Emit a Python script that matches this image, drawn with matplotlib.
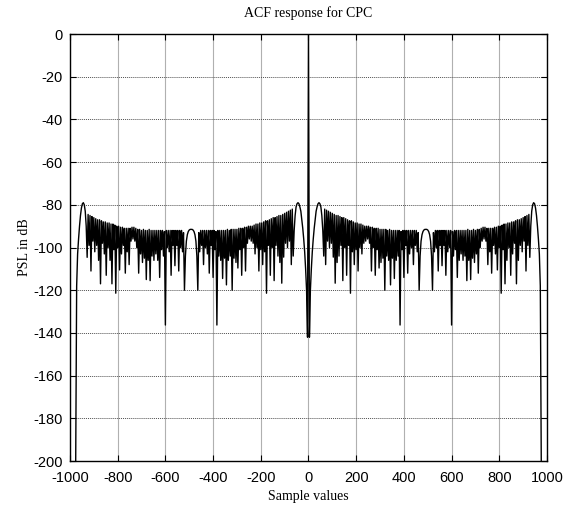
import numpy as np
import matplotlib
matplotlib.use("Agg")
import matplotlib.pyplot as plt

plt.rcParams["axes.unicode_minus"] = False

# sample lags of the left half (ACF is symmetric, right half is its mirror)
lag_step = 4
lag_left = np.arange(-976, 1, lag_step)

# PSL (dB), one value per 4 lags, from -976 up to 0
psl_edge = [-200, -118, -103, -96, -90, -85, -81.5, -79.5, -79, -80, -83, -90]

# dense sidelobe region, pairs of (dip, crest) from -928 to -68
psl_dense = [
    -104.6, -84.5, -99, -85, -111, -85.5, -97, -86, -102, -86.5,
    -99, -87, -106, -87, -117, -87.5, -98, -88, -103, -88,
    -113, -88.5, -100, -88.5, -106, -89, -117, -89, -101, -89.5,
    -121.4, -90, -100, -90, -110.5, -90.5, -103, -90.5, -99, -91,
    -112, -91, -102, -91, -108, -91, -97, -90.5, -96, -90.5,
    -97, -91, -100, -91.5, -112, -91.5, -103, -92, -107, -91.5,
    -105, -92, -115, -92, -106, -91.5, -115.5, -92, -104, -92,
    -106, -92, -103, -92, -106, -92, -114, -92, -101, -92,
    -104, -92.5, -136.3, -92, -100, -92, -102, -92, -113, -92,
    -99, -92, -108.5, -92, -99, -92, -111, -92, -100, -92,
    -102, -93,
    # smooth arch around -490
    -120, -104, -97, -94, -92.5, -91.8, -91.5, -91.5, -91.5, -91.8,
    -92.5, -94, -97, -104, -120, -93,
    -102, -92, -99, -92, -108, -92, -100, -92, -103, -92,
    -112, -92, -99, -92, -114, -92, -101, -92.5, -136.3, -92,
    -104, -92, -106, -92, -114.5, -92, -105, -92, -117.5, -91.5,
    -106, -92, -104, -91.5, -120, -91.5, -105, -91.5, -107, -91.5,
    -109.6, -91, -101, -91, -113, -91, -100, -90.5, -111, -90.5,
    -98, -90, -96, -90, -97, -90, -98, -89.5, -103, -89,
    -100, -89, -111, -88.5, -101, -88.5, -108, -88, -102, -87.5,
    -121.4, -87.5, -99, -87, -113, -86.5, -100, -86, -115.5, -86,
    -99, -85.5, -104, -85, -107, -85, -116.7, -84.5, -104.5, -84,
    -98, -83.5, -100, -83, -97, -82.5, -108, -82,
]

# first sidelobe and main lobe, -64 to 0
psl_center = [-104, -92, -85, -81, -79.5, -79, -79.5, -81, -83, -87,
              -91, -96, -102, -110, -120, -142, 0]

psl_left = np.array(psl_edge + psl_dense + psl_center)
lags = np.concatenate([lag_left, -lag_left[-2::-1]])
psl = np.concatenate([psl_left, psl_left[-2::-1]])

fig = plt.figure(figsize=(5.68, 5.08), dpi=100)
ax = fig.add_axes([0.1232, 0.0925, 0.8398, 0.8405])

ax.plot(lags, psl, color="black", lw=1.0)

ax.set_xlim(-1000, 1000)
ax.set_ylim(-200, 0)
ax.set_xticks(np.arange(-1000, 1001, 200))
ax.set_yticks(np.arange(-200, 1, 20))

# matlab style grid: grey verticals, dotted horizontals
ax.xaxis.grid(True, color="#b0b0b0", lw=0.8, ls="-")
ax.yaxis.grid(True, color="#505050", lw=0.7, ls=(0, (1, 1)))
ax.set_axisbelow(True)

ax.tick_params(direction="in", length=4, top=True, right=True,
               labelsize=10.5, width=0.8)
ax.tick_params(axis="x", pad=7)
ax.tick_params(axis="y", pad=5)
for lab in ax.get_xticklabels() + ax.get_yticklabels():
    lab.set_family("Liberation Sans")
for sp in ax.spines.values():
    sp.set_linewidth(1.0)

ax.set_title("ACF response for CPC", family="Liberation Serif",
             fontsize=10, pad=12)
ax.set_xlabel("Sample values", family="Liberation Serif", fontsize=10,
              labelpad=4)
ax.set_ylabel("PSL in dB", family="Liberation Serif", fontsize=10,
              labelpad=2)

fig.savefig("out.png", dpi=100)
